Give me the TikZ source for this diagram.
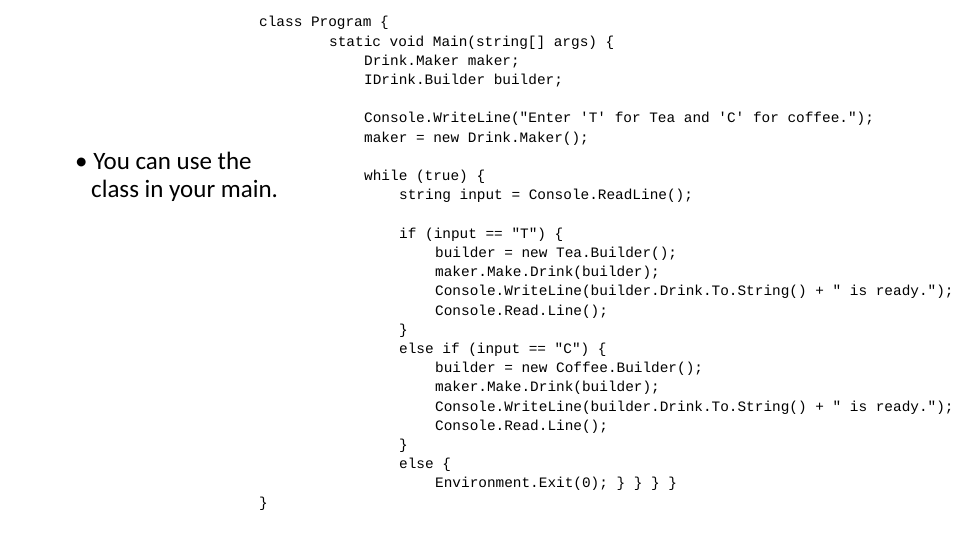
\documentclass[tikz,border=0pt]{standalone}
\usepackage{fontspec}
\newfontfamily\code{Liberation Mono}
\newfontfamily\body{Carlito}
\begin{document}
\begin{tikzpicture}[x=1pt,y=-1pt,
  cl/.style={anchor=base west,inner sep=0pt,font=\code\fontsize{14.4}{14.4}\selectfont},
  bl/.style={anchor=base west,inner sep=0pt,font=\body\fontsize{25}{25}\selectfont}]
\useasboundingbox (0,0) rectangle (960,540);
\def\Y#1{27+19.2*#1}
\node[cl] (l0) at (259,{\Y{0}}) {class Program \{};
\node[cl] (l1) at (329,{\Y{1}}) {static void Main(string[] args) \{};
\node[cl] (l2) at (364,{\Y{2}}) {Drink.Maker maker;};
\node[cl] (l3) at (364,{\Y{3}}) {IDrink.Builder builder;};
\node[cl] (l5) at (364,{\Y{5}}) {Console.WriteLine("Enter 'T' for Tea and 'C' for coffee.");};
\node[cl] (l6) at (364,{\Y{6}}) {maker = new Drink.Maker();};
\node[cl] (l8) at (364,{\Y{8}}) {while (true) \{};
\node[cl] (l9) at (399,{\Y{9}}) {string input = Console.ReadLine();};
\node[cl] (l11) at (399,{\Y{11}}) {if (input == "T") \{};
\node[cl] (l12) at (435,{\Y{12}}) {builder = new Tea.Builder();};
\node[cl] (l13) at (435,{\Y{13}}) {maker.Make.Drink(builder);};
\node[cl] (l14) at (435,{\Y{14}}) {Console.WriteLine(builder.Drink.To.String() + " is ready.");};
\node[cl] (l15) at (435,{\Y{15}}) {Console.Read.Line();};
\node[cl] (l16) at (399,{\Y{16}}) {\}};
\node[cl] (l17) at (399,{\Y{17}}) {else if (input == "C") \{};
\node[cl] (l18) at (435,{\Y{18}}) {builder = new Coffee.Builder();};
\node[cl] (l19) at (435,{\Y{19}}) {maker.Make.Drink(builder);};
\node[cl] (l20) at (435,{\Y{20}}) {Console.WriteLine(builder.Drink.To.String() + " is ready.");};
\node[cl] (l21) at (435,{\Y{21}}) {Console.Read.Line();};
\node[cl] (l22) at (399,{\Y{22}}) {\}};
\node[cl] (l23) at (399,{\Y{23}}) {else \{};
\node[cl] (l24) at (435,{\Y{24}}) {Environment.Exit(0); \} \} \} \}};
\node[cl] (l25) at (259,{\Y{25}}) {\}};
\node[bl] (b1) at (75,170) {\textbullet\ You can use the};
\node[bl] (b2) at (91,197) {class in your main.};
\end{tikzpicture}
\end{document}
